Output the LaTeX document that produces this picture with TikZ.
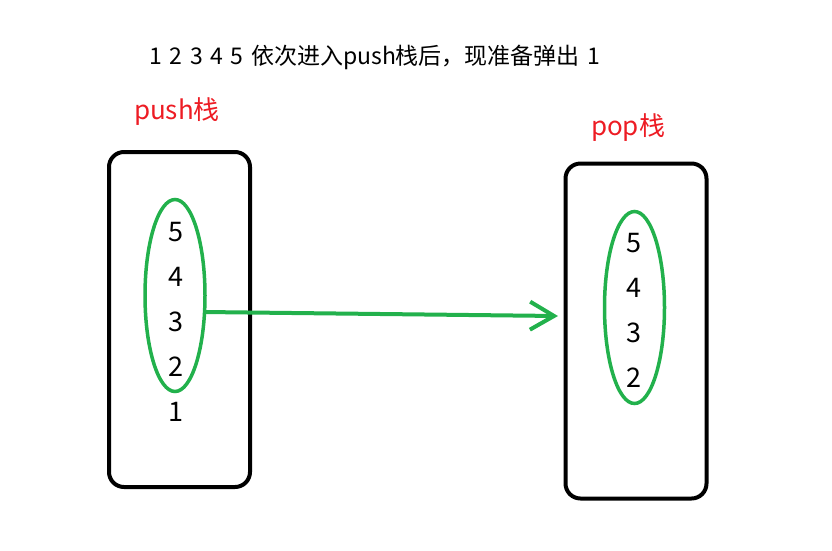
\documentclass[tikz,border=0pt]{standalone}
\usepackage{fontspec}
\setmainfont{Noto Sans CJK SC}
\usetikzlibrary{shapes.geometric,arrows.meta}
\definecolor{pgreen}{HTML}{22B14C}
\definecolor{pred}{HTML}{ED1C24}
\begin{document}
\begin{tikzpicture}[x=1pt,y=-1pt,
    stackbox/.style={draw,line width=4pt,rounded corners=15pt,minimum width=141pt,minimum height=335pt,inner sep=0pt},
    ring/.style={draw=pgreen,ellipse,line width=3.5pt,minimum width=60pt,minimum height=192pt,inner sep=0pt},
    num/.style={font=\fontsize{27}{27}\selectfont}]
    \useasboundingbox (0,0) rectangle (832,550);
    \node[font=\fontsize{23}{23}\selectfont] (title) at (375,57) {\spaceskip=7.5pt 1 2 3 4 5 依次进入push栈后，现准备弹出 1};
    % push stack
    \node[text=pred,font=\fontsize{26}{26}\selectfont] (pushlbl) at (177,112) {push栈};
    \node[stackbox] (pushbox) at (179.5,319.5) {};
    \node[ring] (pushring) at (175,295.5) {};
    \foreach \n/\y in {5/232, 4/277, 3/322, 2/367, 1/412}
    \node[num] (push\n) at (176,\y) {\n};
    % pop stack
    \node[text=pred,font=\fontsize{26}{26}\selectfont] (poplbl) at (628,128) {pop栈};
    \node[stackbox] (popbox) at (636,331) {};
    \node[ring] (popring) at (634.5,307.5) {};
    \foreach \n/\y in {5/243, 4/288, 3/333, 2/378}
    \node[num] (pop\n) at (634,\y) {\n};
    % move
    \coordinate (start) at (204,312);
    \coordinate (tip) at (558,316);
    \draw[pgreen,line width=4pt,-{Straight Barb[length=24pt,width=28pt]}] (start) -- (tip);
\end{tikzpicture}
\end{document}
